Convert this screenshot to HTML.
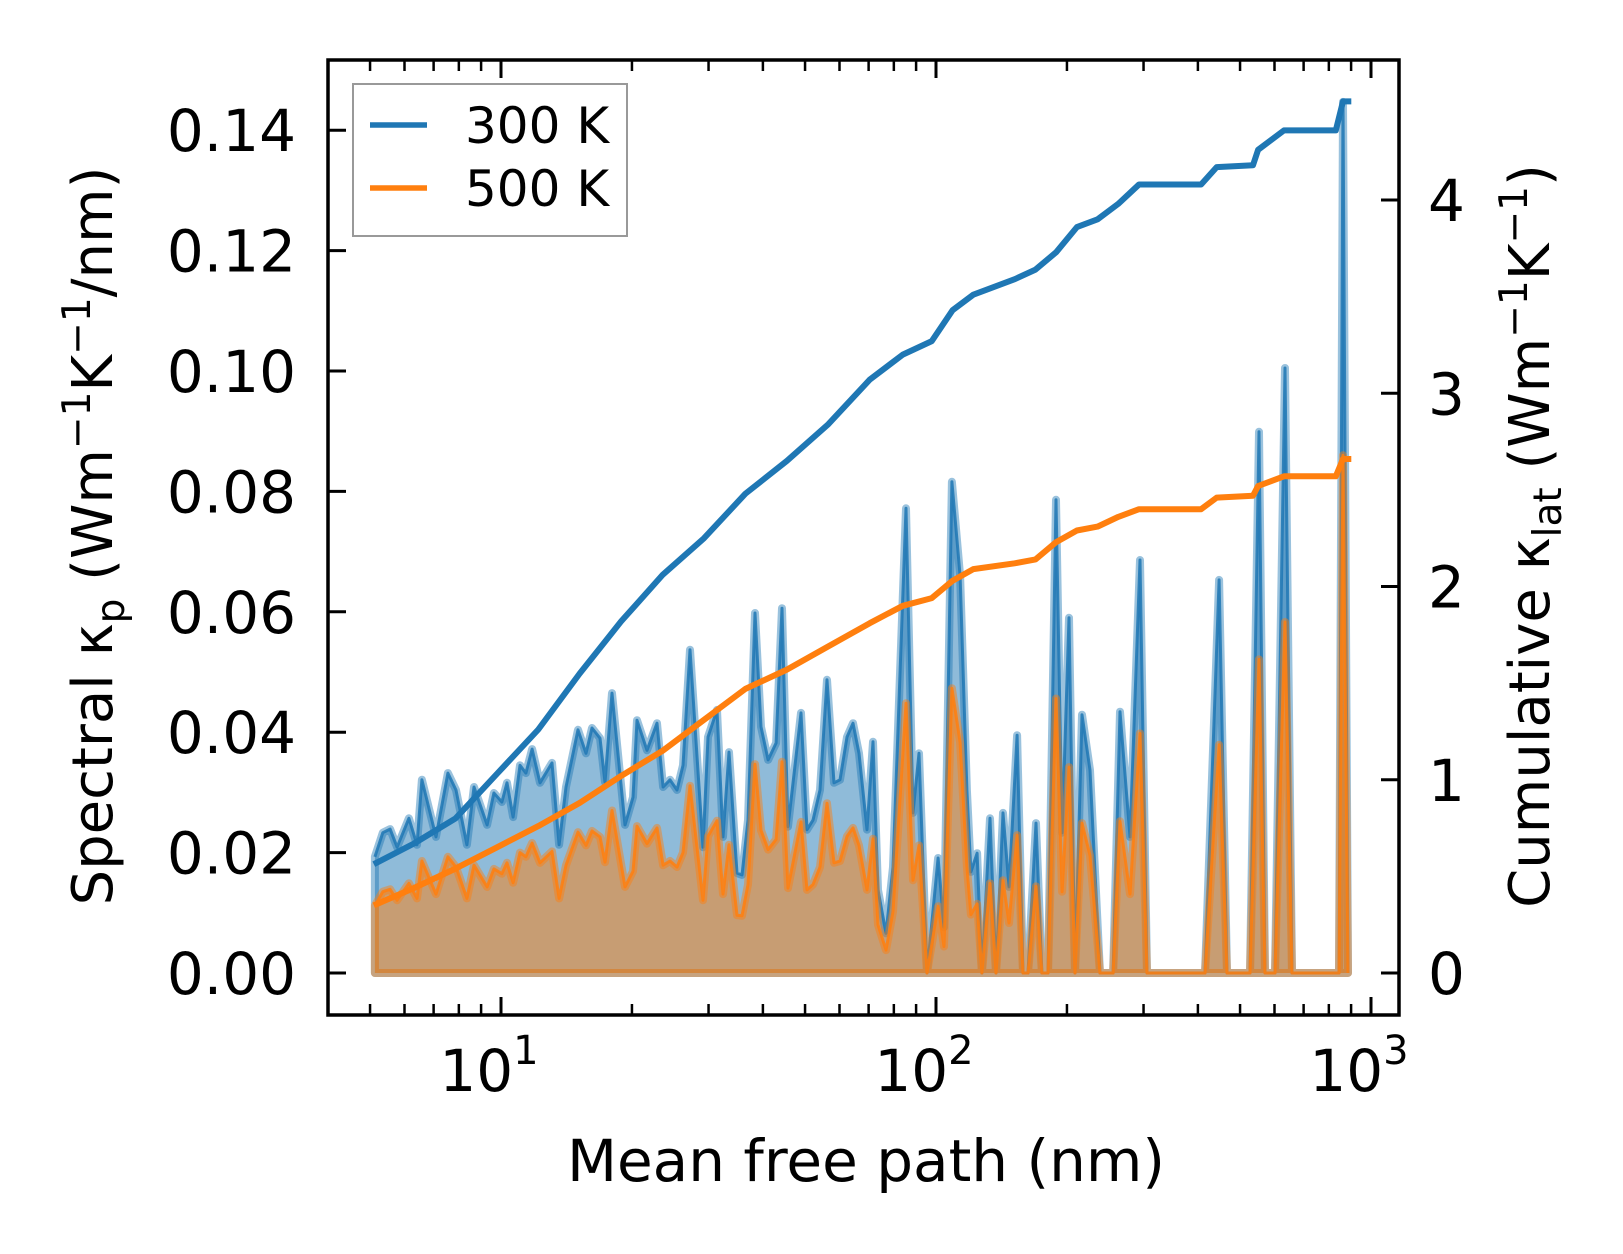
<!DOCTYPE html>
<html><head><meta charset="utf-8"><style>
html,body{margin:0;padding:0;background:#fff;}
svg{display:block;font-family:"DejaVu Sans","Liberation Sans",sans-serif;}
</style></head><body>
<svg id="chart" width="1623" height="1254" viewBox="0 0 1623 1254" xmlns="http://www.w3.org/2000/svg">
<rect x="0" y="0" width="1623" height="1254" fill="#fff"/>
<g id="plot"></g>
<g id="axes"></g>
<g>
<rect x="353" y="84" width="274" height="152" fill="#fff" fill-opacity="0.8" stroke="#999" stroke-width="2"/>
<line x1="370" y1="125" x2="427" y2="125" stroke="#1f77b4" stroke-width="5.5"/>
<text x="465" y="143" font-size="50">300 K</text>
<line x1="370" y1="188" x2="427" y2="188" stroke="#ff7f0e" stroke-width="5.5"/>
<text x="465" y="206" font-size="50">500 K</text>
</g>
<text x="866" y="1181" font-size="58" text-anchor="middle">Mean free path (nm)</text>
<text transform="translate(112,536) rotate(-90)" font-size="56" text-anchor="middle">Spectral κ<tspan font-size="39" dy="12">p</tspan><tspan dy="-12"> (Wm</tspan><tspan font-size="39" dy="-22">−1</tspan><tspan dy="22">K</tspan><tspan font-size="39" dy="-22">−1</tspan><tspan dy="22">/nm)</tspan></text>
<text transform="translate(1549,536) rotate(-90)" font-size="56" text-anchor="middle">Cumulative κ<tspan font-size="39" dy="12">lat</tspan><tspan dy="-12"> (Wm</tspan><tspan font-size="39" dy="-22">−1</tspan><tspan dy="22">K</tspan><tspan font-size="39" dy="-22">−1</tspan><tspan dy="22">)</tspan></text>
</svg>
<script>
const mfp = [5.13,5.35,5.56,5.77,6.14,6.41,6.58,7.09,7.55,7.88,8.35,8.67,9.29,9.63,10.05,10.32,10.66,11.06,11.41,11.79,12.29,13.10,13.60,14.11,15.03,15.68,16.19,16.89,17.34,18.00,19.28,20.11,20.54,21.66,22.84,23.58,24.46,25.39,26.21,27.20,29.13,29.92,31.37,32.38,33.43,34.87,35.81,36.97,38.37,39.61,41.11,42.89,44.26,45.69,48.95,50.52,52.15,54.12,56.16,58.28,60.17,62.44,64.45,66.53,69.41,71.65,73.57,76.75,79.64,85.31,88.53,91.38,95.35,101.1,104.3,108.8,113.6,117.8,120.3,124.3,127.5,133.1,137.4,142.6,147.2,153.6,158.5,162.7,169.8,175.2,180.9,188.7,194.9,202.2,208.7,216.6,225.9,238.3,255.3,264.9,279.3,294.4,305.5,415.3,447.4,466.7,527.1,552.8,570.6,601.6,634.3,658.2,844.2,862.3,885.3];
const spec300 = [0.0193,0.0233,0.0239,0.0209,0.0257,0.0213,0.0321,0.0226,0.0332,0.0304,0.0213,0.0309,0.0246,0.0299,0.0284,0.0316,0.0259,0.0345,0.0332,0.0372,0.0316,0.0349,0.0213,0.0309,0.0404,0.0365,0.0407,0.0390,0.0317,0.0465,0.0246,0.0292,0.0420,0.0370,0.0415,0.0309,0.0321,0.0304,0.0345,0.0537,0.0209,0.0392,0.0437,0.0226,0.0367,0.0166,0.0163,0.0254,0.0598,0.0409,0.0354,0.0382,0.0606,0.0243,0.0432,0.0238,0.0254,0.0304,0.0487,0.0316,0.0321,0.0392,0.0415,0.0365,0.0238,0.0384,0.0138,0.0066,0.0176,0.0772,0.0266,0.0365,0,0.0191,0.0076,0.0816,0.0660,0.0304,0.0168,0.0199,0,0.0257,0,0.0266,0.0143,0.0395,0,0,0.0249,0,0,0.0786,0.0233,0.0590,0,0.0429,0.0337,0,0,0.0434,0.0226,0.0686,0,0,0.0653,0,0,0.0899,0,0,0.1005,0,0,0.1447,0];
const spec500 = [0.0112,0.0135,0.0139,0.0121,0.0149,0.0124,0.0186,0.0131,0.0193,0.0176,0.0124,0.0179,0.0143,0.0173,0.0165,0.0183,0.0150,0.0200,0.0193,0.0216,0.0183,0.0202,0.0124,0.0179,0.0234,0.0212,0.0236,0.0226,0.0184,0.0270,0.0143,0.0169,0.0244,0.0215,0.0241,0.0179,0.0186,0.0176,0.0200,0.0311,0.0121,0.0227,0.0253,0.0131,0.0213,0.0096,0.0095,0.0147,0.0347,0.0237,0.0205,0.0222,0.0351,0.0141,0.0251,0.0138,0.0147,0.0176,0.0282,0.0183,0.0186,0.0227,0.0241,0.0212,0.0138,0.0223,0.0080,0.0038,0.0102,0.0448,0.0154,0.0212,0,0.0111,0.0044,0.0473,0.0383,0.0176,0.0097,0.0115,0,0.0149,0,0.0154,0.0083,0.0229,0,0,0.0144,0,0,0.0456,0.0135,0.0342,0,0.0249,0.0195,0,0,0.0252,0.0131,0.0398,0,0,0.0379,0,0,0.0521,0,0,0.0583,0,0,0.0860,0];
const cumMfp = [5.10,6.31,7.86,9.78,12.18,15.17,18.89,23.52,29.29,36.47,45.41,56.55,70.41,83.9,97.8,109.2,121.8,151.7,169.3,188.9,210.8,235.2,262.4,292.9,406.9,441.8,535.4,550.2,631,829.9,862.4,901.1];
const cum300 = [0.563,0.67,0.80,1.03,1.26,1.55,1.82,2.06,2.25,2.48,2.65,2.84,3.07,3.20,3.27,3.43,3.51,3.59,3.64,3.73,3.86,3.90,3.98,4.08,4.08,4.17,4.18,4.26,4.36,4.36,4.51,4.51];
const cum500 = [0.35,0.44,0.54,0.65,0.76,0.88,1.02,1.15,1.31,1.47,1.57,1.69,1.81,1.90,1.94,2.03,2.09,2.12,2.14,2.23,2.29,2.31,2.36,2.40,2.40,2.46,2.47,2.52,2.57,2.57,2.66,2.66];
const leftTicks = [0,0.02,0.04,0.06,0.08,0.10,0.12,0.14];
const leftTickLabels = ["0.00","0.02","0.04","0.06","0.08","0.10","0.12","0.14"];
const rightTicks = [0,1,2,3,4];
const xMajor = [10,100,1000];
const xMajorExp = ["1","2","3"];
const xMinor = [4,5,6,7,8,9,20,30,40,50,60,70,80,90,200,300,400,500,600,700,800,900];

const NS = "http://www.w3.org/2000/svg";
const X0 = 328, X1 = 1399, Y0 = 60, Y1 = 1015;
function xs(m){ return 501 + 435*(Math.log10(m)-1); }
function yl(v){ return 973 - v/0.02*120.4; }
function yr(v){ return 973 - v*193.25; }
function mk(tag, attrs, parent){ const e=document.createElementNS(NS,tag); for(const k in attrs) e.setAttribute(k,attrs[k]); parent.appendChild(e); return e; }

const plot = document.getElementById('plot');
const axes = document.getElementById('axes');

function spectral(vals, color, name){
  let line = vals.map((v,i)=>xs(mfp[i]).toFixed(1)+','+yl(v).toFixed(1)).join(' L');
  const x0 = xs(mfp[0]).toFixed(1), xn = xs(mfp[mfp.length-1]).toFixed(1), yb = yl(0).toFixed(1);
  const area = mk('path',{d:'M'+x0+','+yb+' L'+line+' L'+xn+','+yb+' Z', fill:color, 'fill-opacity':0.5, stroke:color, 'stroke-opacity':0.45, 'stroke-width':8, 'stroke-linejoin':'round'}, plot);
  
  
  const ln = mk('path',{d:'M'+line, fill:'none', stroke:color, 'stroke-opacity':0.85, 'stroke-width':3, 'stroke-linejoin':'round'}, plot);
  
  
}
spectral(spec300, '#1f77b4', 'spectral-300k');
spectral(spec500, '#ff7f0e', 'spectral-500k');

function cumulative(vals, color, name){
  const d = 'M'+vals.map((v,i)=>xs(cumMfp[i]).toFixed(1)+','+yr(v).toFixed(1)).join(' L');
  const p = mk('path',{d:d, fill:'none', stroke:color, 'stroke-width':6, 'stroke-linejoin':'round'}, plot);
  
  
}
cumulative(cum300, '#1f77b4', 'cumulative-300k');
cumulative(cum500, '#ff7f0e', 'cumulative-500k');

const frame = mk('rect',{x:X0,y:Y0,width:X1-X0,height:Y1-Y0,fill:'none',stroke:'#000','stroke-width':3.5}, axes);



leftTicks.forEach((v,i)=>{
  const y = yl(v);
  const t = mk('line',{x1:X0,y1:y,x2:X0+18,y2:y,stroke:'#000','stroke-width':3}, axes);
  
  
  const lb = mk('text',{x:296,y:y+21,'font-size':58,'text-anchor':'end'}, axes);
  lb.textContent = leftTickLabels[i];
  
  
});
rightTicks.forEach(v=>{
  const y = yr(v);
  const t = mk('line',{x1:X1-18,y1:y,x2:X1,y2:y,stroke:'#000','stroke-width':3}, axes);
  
  
  const lb = mk('text',{x:1428,y:y+21,'font-size':58}, axes);
  lb.textContent = String(v);
  
  
});
xMajor.forEach((m,i)=>{
  const x = xs(m);
  [[Y1,Y1-18],[Y0,Y0+18]].forEach(([a,b])=>{
    const t = mk('line',{x1:x,y1:a,x2:x,y2:b,stroke:'#000','stroke-width':3}, axes);
    
    
  });
  const lb = mk('text',{x:x-12,y:1091,'font-size':58,'text-anchor':'middle'}, axes);
  lb.textContent = '10';
  const sp = mk('tspan',{'font-size':40,dy:-27}, lb);
  sp.textContent = xMajorExp[i];
  
  
});
xMinor.forEach(m=>{
  const x = xs(m);
  if (x < X0-1 || x > X1) return;
  [[Y1,Y1-11],[Y0,Y0+11]].forEach(([a,b])=>{
    const t = mk('line',{x1:x,y1:a,x2:x,y2:b,stroke:'#000','stroke-width':2.5}, axes);
    
    
  });
});
</script>
</body></html>
